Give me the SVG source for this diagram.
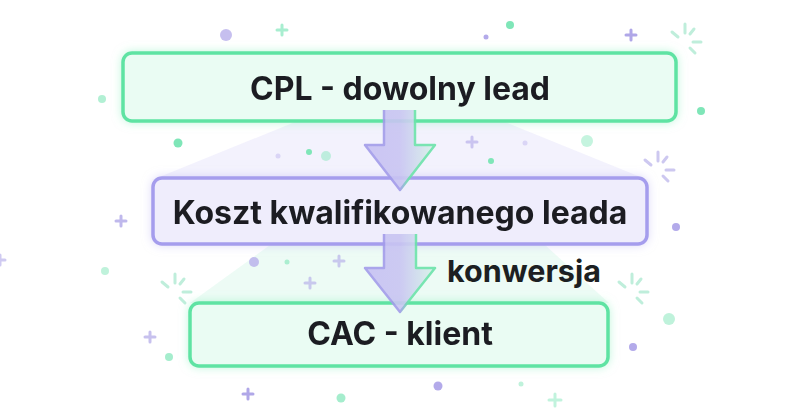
<svg xmlns="http://www.w3.org/2000/svg" width="800" height="420" viewBox="0 0 800 420">
<defs>
<style>
.lbl{font-family:Inter,"Liberation Sans",Arial,sans-serif;font-weight:700;fill:#1c1f22;text-anchor:middle}
.gbox{fill:#eafcf3;stroke:#5fe3a3;stroke-width:3.5}
.pbox{fill:#efedfc;stroke:#a59ded;stroke-width:3.5}
.pd{fill:#b3aaea}
.gd{fill:#7fe6b8}
.pp{stroke:#b0a7e8;stroke-width:3;stroke-linecap:round}
.gp{stroke:#a8eed0;stroke-width:3;stroke-linecap:round}
.sg{stroke:#bfeedb;stroke-width:3;stroke-linecap:round}
.sp{stroke:#cdc8f0;stroke-width:3;stroke-linecap:round}
.arr{fill:url(#arrFill);stroke:url(#arrStroke);stroke-width:2.5;stroke-linejoin:round;opacity:0.9}
</style>
<filter id="glowG" x="-10%" y="-40%" width="120%" height="180%">
<feGaussianBlur in="SourceAlpha" stdDeviation="5" result="b"/>
<feFlood flood-color="#8ef0c0" flood-opacity="0.55"/>
<feComposite in2="b" operator="in" result="s"/>
<feMerge><feMergeNode in="s"/><feMergeNode in="SourceGraphic"/></feMerge>
</filter>
<filter id="glowP" x="-10%" y="-40%" width="120%" height="180%">
<feGaussianBlur in="SourceAlpha" stdDeviation="5" result="b"/>
<feFlood flood-color="#c3bdf3" flood-opacity="0.55"/>
<feComposite in2="b" operator="in" result="s"/>
<feMerge><feMergeNode in="s"/><feMergeNode in="SourceGraphic"/></feMerge>
</filter>
<linearGradient id="arrFill" x1="0" y1="0" x2="1" y2="0">
<stop offset="0" stop-color="#c7c1f3"/>
<stop offset="0.5" stop-color="#c9c5f2"/>
<stop offset="1" stop-color="#d8f4e9"/>
</linearGradient>
<linearGradient id="arrStroke" x1="0" y1="0" x2="1" y2="0">
<stop offset="0" stop-color="#a39cea"/>
<stop offset="0.5" stop-color="#a39cea"/>
<stop offset="0.62" stop-color="#6ce3aa"/>
<stop offset="1" stop-color="#6ce3aa"/>
</linearGradient>
<g id="sparkle">
<line x1="0" y1="-18" x2="0" y2="-9"/>
<line x1="9" y1="-13" x2="5" y2="-8"/>
<line x1="-13" y1="-10" x2="-7" y2="-5"/>
<line x1="8" y1="0" x2="16" y2="0"/>
<line x1="5" y1="6" x2="10" y2="11"/>
</g>
</defs>
<rect width="800" height="420" fill="#ffffff"/>

<!-- background fans -->
<polygon points="295,122 505,122 648,180 152,180" fill="#efedfc" opacity="0.75"/>
<polygon points="270,245 545,245 609,303 190,303" fill="#e7faf1" opacity="0.75"/>

<!-- decorations -->
<g id="decor">
<circle class="pd" cx="226" cy="35" r="6" opacity="0.75"/>
<path class="gp" d="M282,25v10M277,30h10"/>
<circle class="pd" cx="486" cy="37" r="2.5"/>
<circle class="gd" cx="510" cy="25" r="4"/>
<path class="pp" d="M631,30v10M626,35h10"/>
<use href="#sparkle" class="sg" x="685" y="42"/>
<circle class="gd" cx="102" cy="99" r="4" opacity="0.6"/>
<circle class="gd" cx="701" cy="111" r="4"/>
<circle class="gd" cx="178" cy="143" r="4.5"/>
<circle class="gd" cx="309" cy="152" r="3"/>
<circle class="gd" cx="326" cy="156" r="5" opacity="0.45"/>
<circle class="pd" cx="278" cy="156" r="2.5" opacity="0.4"/>
<path class="pp" d="M472,137v10M467,142h10" opacity="0.6"/>
<circle class="pd" cx="525" cy="143" r="2.5" opacity="0.4"/>
<circle class="gd" cx="587" cy="141" r="6" opacity="0.45"/>
<circle class="gd" cx="491" cy="161" r="3"/>
<use href="#sparkle" class="sp" x="658" y="170"/>
<path class="pp" d="M121,216v10M116,221h10" opacity="0.8"/>
<circle class="pd" cx="676" cy="227" r="4"/>
<circle class="pd" cx="254" cy="262" r="5" opacity="0.75"/>
<circle class="gd" cx="287" cy="262" r="2.5" opacity="0.6"/>
<path class="pp" d="M339,256v10M334,261h10" opacity="0.6"/>
<path class="pp" d="M310,278v10M305,283h10" opacity="0.6"/>
<circle class="gd" cx="105" cy="271" r="4" opacity="0.5"/>
<use href="#sparkle" class="sg" x="175" y="292"/>
<use href="#sparkle" class="sg" x="632" y="292"/>
<circle class="gd" cx="669" cy="319" r="6" opacity="0.5"/>
<path class="pp" d="M150,332v10M145,337h10" opacity="0.7"/>
<circle class="gd" cx="169" cy="357" r="4" opacity="0.7"/>
<circle class="pd" cx="633" cy="347" r="4"/>
<path class="pp" d="M248,389v10M243,394h10"/>
<circle class="gd" cx="341" cy="398" r="4.5" opacity="0.7"/>
<circle class="pd" cx="438" cy="386" r="4.5"/>
<circle class="gd" cx="521" cy="384" r="2.5" opacity="0.5"/>
<path class="gp" d="M555,394v12M549,400h12" opacity="0.7"/>
<path class="pp" d="M0,255v10M-5,260h10" opacity="0.6"/>
</g>

<!-- nodes -->
<g id="node-cpl" filter="url(#glowG)">
<rect class="gbox" x="123" y="53" width="553" height="68" rx="9"/>
<text class="lbl" x="400" y="100" font-size="32">CPL - dowolny lead</text>
</g>
<g id="node-kwal" filter="url(#glowP)">
<rect class="pbox" x="153" y="178" width="494" height="66" rx="9"/>
<text class="lbl" x="400" y="224" font-size="32">Koszt kwalifikowanego leada</text>
</g>
<g id="node-cac" filter="url(#glowG)">
<rect class="gbox" x="190" y="303" width="418" height="63" rx="9"/>
<text class="lbl" x="400" y="345" font-size="32">CAC - klient</text>
</g>

<!-- connectors -->
<g id="connectors">
<path class="arr" d="M384,110 V145 H365 L400,190 L435,145 H415 V110"/>
<path class="arr" d="M384,234 V268 H365 L400,312 L435,268 H416 V234"/>
<text class="lbl" x="524" y="282" font-size="30.5">konwersja</text>
</g>
</svg>
